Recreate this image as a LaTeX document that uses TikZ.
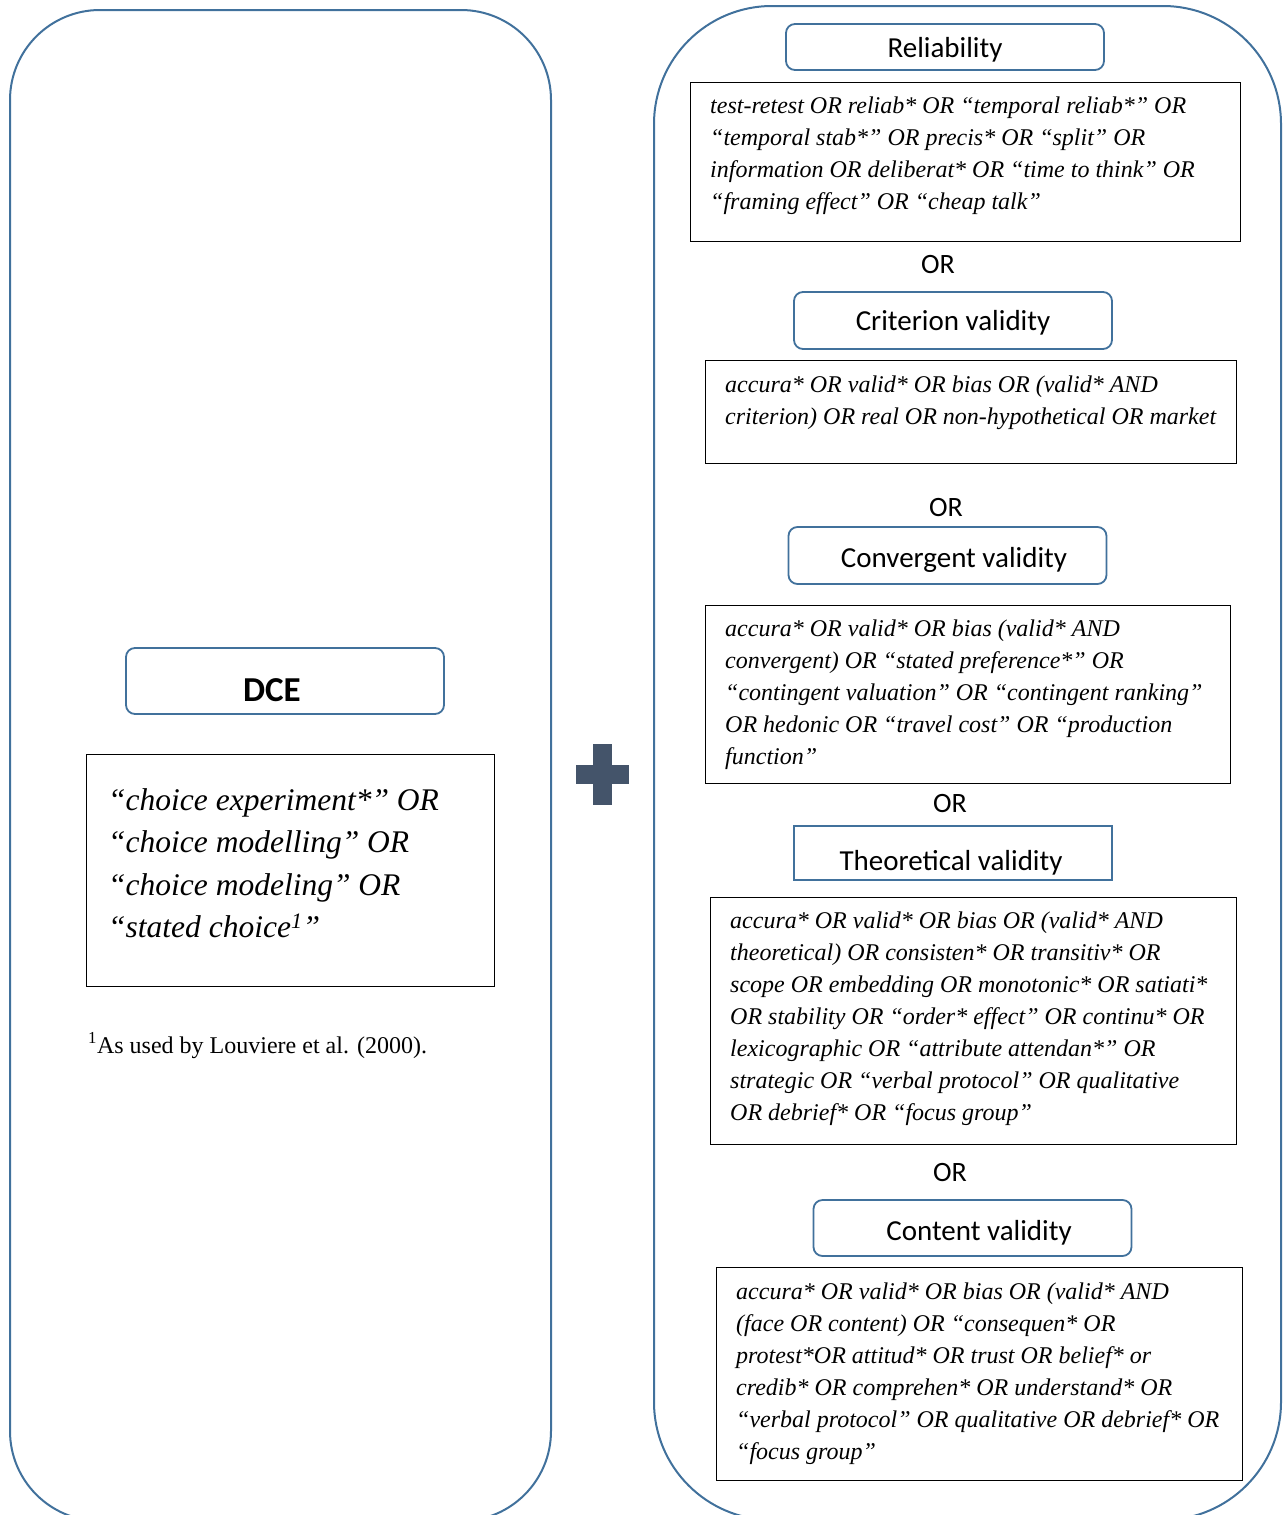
\documentclass[tikz,border=0pt]{standalone}
\usepackage{fontspec}
\setmainfont{Liberation Serif}
\newfontfamily\headfont{Carlito}
\definecolor{panelblue}{RGB}{65,113,156}
\definecolor{plusgrey}{RGB}{68,84,106}
% tekst in een kop zakken zonder de kop te vergroten
\newcommand{\headlabel}[2]{\raisebox{-#1}[0pt][0pt]{#2}}

\begin{document}
\begin{tikzpicture}[
      x=1pt, y=-1pt,
      panel/.style={draw=panelblue, line width=2pt},
      headbox/.style={draw=panelblue, line width=1.8pt, rounded corners=9pt, fill=white, minimum width=318pt, inner sep=0pt, font=\headfont\fontsize{29}{34}\selectfont}, % kopjes
      termbox/.style={draw=black, line width=0.9pt, inner sep=0pt},
      termtext/.style={anchor=north west, align=left, inner sep=0pt, font=\itshape\fontsize{24}{32}\selectfont},
      ortext/.style={inner sep=0pt, font=\headfont\fontsize{28}{32}\selectfont}
    ]
    \useasboundingbox (0,0) rectangle (1285,1515);
    % grote panelen (onderkant valt buiten het beeld)
    \begin{scope}
      \clip (0,0) rectangle (1285,1515);
      \draw [panel, rounded corners=90pt] (10,10) rectangle (551,1521);
      \draw [panel, rounded corners=118pt] (654,6) rectangle (1281,1520);
    \end{scope}
    % plusteken
    \fill [plusgrey] (593,744) rectangle (612,805);
    \fill [plusgrey] (576,765) rectangle (629,784);

    % linker kant: DCE
    \node [headbox, minimum height=66pt, font=\headfont\bfseries\fontsize{35}{40}\selectfont] (dce) at (285,681) {\headlabel{20pt}{\hspace*{-26pt}DCE}};
    \node [termbox, minimum width=408pt, minimum height=232pt] (dcebox) at (290,870) {};
    \node [termtext, font=\itshape\fontsize{31.5}{42.5}\selectfont] (dcetext) at (108,788) {“choice experiment*” OR\\ “choice modelling” OR\\ “choice modeling” OR\\ “stated choice\textsuperscript{1}”};
    \node [anchor=base west, inner sep=0pt, font=\fontsize{24}{28}\selectfont] (footnote) at (88,1053) {\textsuperscript{1}As used by Louviere et al. (2000).};

    % rechter kant: zoektermen
    \node [headbox, minimum height=46pt] (rel) at (945,47) {\headlabel{10pt}{Reliability}};
    \node [termbox, minimum width=550pt, minimum height=159pt] (relbox) at (965,161.5) {};
    \node [termtext] (reltext) at (710,96.5) {test-retest OR reliab* OR “temporal reliab*” OR\\ “temporal stab*” OR precis* OR “split” OR\\ information OR deliberat* OR “time to think” OR\\ “framing effect” OR “cheap talk”};
    \node [ortext] (or1) at (938,265) {OR};

    \node [headbox, minimum height=57pt] (crit) at (953,320.5) {\headlabel{10pt}{Criterion validity}};
    \node [termbox, minimum width=531pt, minimum height=103pt] (critbox) at (970.5,411.5) {};
    \node [termtext] (crittext) at (725,375.5) {accura* OR valid* OR bias OR (valid* AND\\ criterion) OR real OR non-hypothetical OR market};
    \node [ortext] (or2) at (946,508) {OR};

    \node [headbox, minimum height=57pt] (conv) at (947.5,555.5) {\headlabel{12pt}{\hspace*{13pt}Convergent validity}};
    \node [termbox, minimum width=525pt, minimum height=178pt] (convbox) at (967.5,694) {};
    \node [termtext] (convtext) at (725,619.5) {accura* OR valid* OR bias (valid* AND\\ convergent) OR “stated preference*” OR\\ “contingent valuation” OR “contingent ranking”\\ OR hedonic OR “travel cost” OR “production\\ function”};
    \node [ortext] (or3) at (950,804) {OR};

    \node [headbox, rounded corners=0pt, minimum height=54pt] (theo) at (953,853) {\headlabel{17pt}{\hspace*{-4pt}Theoretical validity}};
    \node [termbox, minimum width=526pt, minimum height=247pt] (theobox) at (973,1020.5) {};
    \node [termtext] (theotext) at (730,911.5) {accura* OR valid* OR bias OR (valid* AND\\ theoretical) OR consisten* OR transitiv* OR\\ scope OR embedding OR monotonic* OR satiati*\\ OR stability OR “order* effect” OR continu* OR\\ lexicographic OR “attribute attendan*” OR\\ strategic OR “verbal protocol” OR qualitative\\ OR debrief* OR “focus group”};
    \node [ortext] (or4) at (950,1172) {OR};

    \node [headbox, minimum height=56pt] (cont) at (972.5,1228) {\headlabel{12pt}{\hspace*{13pt}Content validity}};
    \node [termbox, minimum width=526pt, minimum height=213pt] (contbox) at (979,1373.5) {};
    \node [termtext] (conttext) at (736,1282.5) {accura* OR valid* OR bias OR (valid* AND\\ (face OR content) OR “consequen* OR\\ protest*OR attitud* OR trust OR belief* or\\ credib* OR comprehen* OR understand* OR\\ “verbal protocol” OR qualitative OR debrief* OR\\ “focus group”};
\end{tikzpicture}
\end{document}
